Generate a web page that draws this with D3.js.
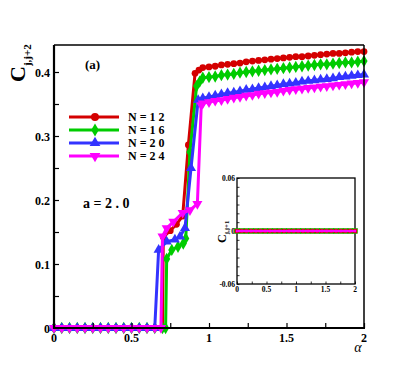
<!DOCTYPE html>
<html lang="en">
<head>
<meta charset="UTF-8">
<title>C j,j+2 vs alpha</title>
<script src="https://cdnjs.cloudflare.com/ajax/libs/d3/7.8.5/d3.min.js"></script>
<style>
    body { margin: 0; background: #fff; }
    svg { display: block; }
</style>
</head>
<body>
<div id="chart"></div>
<script>
    // values
    const zeroAlpha = [0, 0.05, 0.1, 0.15, 0.2, 0.25, 0.3, 0.35, 0.4, 0.45, 0.5, 0.55, 0.6, 0.65];
    const highAlpha = [0.96, 1.0, 1.04, 1.08, 1.12, 1.16, 1.2, 1.24, 1.28, 1.32, 1.36, 1.4, 1.44, 1.48,
        1.52, 1.56, 1.6, 1.64, 1.68, 1.72, 1.76, 1.8, 1.84, 1.88, 1.92, 1.96, 2.0];

    const n12Mid = [[0.70, 0], [0.705, 0.142], [0.75, 0.152], [0.79, 0.162], [0.83, 0.175], [0.867, 0.286], [0.91, 0.398], [0.935, 0.403]];
    const n16Mid = [[0.70, 0], [0.72, 0], [0.727, 0.108], [0.76, 0.122], [0.80, 0.127], [0.834, 0.132], [0.85, 0.14], [0.877, 0.275], [0.92, 0.378], [0.94, 0.385]];
    const n20Mid = [[0.675, 0.122], [0.727, 0.135], [0.78, 0.138], [0.813, 0.143], [0.845, 0.156], [0.884, 0.25], [0.93, 0.356]];
    const n24Mid = [[0.69, 0], [0.70, 0.143], [0.727, 0.156], [0.77, 0.166], [0.83, 0.18], [0.877, 0.184], [0.925, 0.194], [0.95, 0.348]];

    const n12High = [0.407, 0.408, 0.409, 0.411, 0.412, 0.413, 0.414, 0.416, 0.417, 0.418, 0.419, 0.42, 0.421, 0.422,
        0.423, 0.424, 0.424, 0.425, 0.426, 0.427, 0.428, 0.429, 0.429, 0.43, 0.431, 0.432, 0.432];
    const n16High = [0.391, 0.392, 0.393, 0.395, 0.396, 0.397, 0.399, 0.4, 0.401, 0.402, 0.403, 0.404, 0.405, 0.406,
        0.407, 0.408, 0.409, 0.41, 0.411, 0.412, 0.412, 0.413, 0.414, 0.415, 0.415, 0.416, 0.417];
    const n20High = [0.359, 0.361, 0.363, 0.365, 0.367, 0.368, 0.37, 0.372, 0.373, 0.375, 0.376, 0.378, 0.379, 0.381,
        0.382, 0.383, 0.385, 0.386, 0.387, 0.388, 0.389, 0.39, 0.392, 0.393, 0.394, 0.395, 0.396];
    const n24High = [0.351, 0.353, 0.355, 0.356, 0.358, 0.36, 0.361, 0.363, 0.364, 0.366, 0.367, 0.368, 0.369, 0.371,
        0.372, 0.373, 0.374, 0.375, 0.376, 0.377, 0.378, 0.379, 0.38, 0.381, 0.382, 0.383, 0.384];

    const seriesLabels = ["N = 1 2", "N = 1 6", "N = 2 0", "N = 2 4"];
    const yTicks = [0, 0.1, 0.2, 0.3, 0.4];
    const xTicks = [0, 0.5, 1, 1.5, 2];

    // inset: C(j,j+1) is zero everywhere
    const insetAlpha = [0, 0.08, 0.16, 0.24, 0.32, 0.4, 0.48, 0.56, 0.64, 0.72, 0.8, 0.88, 0.96, 1.04,
        1.12, 1.2, 1.28, 1.36, 1.44, 1.52, 1.6, 1.68, 1.76, 1.84, 1.92, 2.0];
    const insetC = [0, 0, 0, 0, 0, 0, 0, 0, 0, 0, 0, 0, 0, 0, 0, 0, 0, 0, 0, 0, 0, 0, 0, 0, 0, 0];
    const insetYTicks = [-0.06, 0, 0.06];

    const W = 415, H = 370;
    const svg = d3.select("#chart").append("svg").attr("width", W).attr("height", H)
        .attr("font-family", "'Liberation Serif', 'Times New Roman', 'DejaVu Serif', serif")
        .attr("font-weight", "bold");

    const x = d3.scaleLinear().domain([0, 2]).range([54, 364]);
    const y = d3.scaleLinear().domain([0, 0.4]).range([328, 72]);
    const topY = 45;

    const colors = ["#d40000", "#00cc00", "#3333ff", "#ff00ff"];
    const shapes = [d3.symbolCircle, d3.symbolDiamond, d3.symbolTriangle, d3.symbolTriangle];
    const flips = [0, 0, 0, 180];
    const mids = [n12Mid, n16Mid, n20Mid, n24Mid];
    const highs = [n12High, n16High, n20High, n24High];

    const series = seriesLabels.map((label, i) => ({
        label: label,
        color: colors[i],
        shape: shapes[i],
        flip: flips[i],
        points: zeroAlpha.map(a => [a, 0])
            .concat(mids[i])
            .concat(highAlpha.map((a, k) => [a, highs[i][k]]))
    }));

    const line = d3.line().x(d => x(d[0])).y(d => y(d[1]));
    const sym = (s, size) => d3.symbol().type(s.shape).size(size);

    const plot = svg.append("g");
    series.forEach(s => {
        plot.append("path").attr("d", line(s.points))
            .attr("fill", "none").attr("stroke", s.color).attr("stroke-width", 3);
        plot.append("g").selectAll("path").data(s.points).enter().append("path")
            .attr("d", sym(s, s.shape === d3.symbolCircle ? 36 : 44))
            .attr("transform", d => `translate(${x(d[0])},${y(d[1])}) rotate(${s.flip})`)
            .attr("fill", s.color);
    });

    // frame
    svg.append("line").attr("x1", 54).attr("x2", 364).attr("y1", topY).attr("y2", topY)
        .attr("stroke", "#000").attr("stroke-width", 1.5);
    svg.append("line").attr("x1", 364).attr("x2", 364).attr("y1", topY).attr("y2", 328)
        .attr("stroke", "#000").attr("stroke-width", 1.5);

    // axes with inward ticks
    const yAxis = d3.axisLeft(y).tickValues(d3.range(0, 0.44, 0.05)).tickSize(-5).tickFormat("");
    svg.append("g").attr("transform", "translate(54,0)").call(yAxis);
    const xAxis = d3.axisBottom(x).tickValues(d3.range(0, 2.01, 0.25)).tickSize(-5).tickFormat("");
    svg.append("g").attr("transform", "translate(0,328)").call(xAxis);
    svg.selectAll(".domain").remove();
    svg.selectAll(".tick line").attr("stroke", "#000").attr("stroke-width", 1.2);
    svg.append("line").attr("x1", 54).attr("x2", 54).attr("y1", topY).attr("y2", 329)
        .attr("stroke", "#000").attr("stroke-width", 2.2);
    svg.append("line").attr("x1", 53).attr("x2", 365).attr("y1", 328).attr("y2", 328)
        .attr("stroke", "#000").attr("stroke-width", 2.2);

    svg.append("g").selectAll("text").data(yTicks).enter().append("text")
        .attr("x", 50).attr("y", d => y(d) + 4.5).attr("text-anchor", "end")
        .attr("font-size", 12).text(d => d === 0 ? "0" : d.toFixed(1));
    svg.append("g").selectAll("text").data(xTicks).enter().append("text")
        .attr("x", d => x(d)).attr("y", 342).attr("text-anchor", "middle")
        .attr("font-size", 12).text(d => String(d));

    svg.append("text").attr("x", 358).attr("y", 352).attr("text-anchor", "middle")
        .attr("font-size", 14).attr("font-weight", "normal").attr("font-style", "italic").text("α");

    const yTitle = svg.append("text").attr("transform", "translate(25,82) rotate(-90)");
    yTitle.append("tspan").attr("font-size", 22).text("C");
    yTitle.append("tspan").attr("font-size", 11).attr("dy", 6).text("j,j+2");

    svg.append("text").attr("x", 85).attr("y", 69).attr("font-size", 13).text("(a)");
    svg.append("text").attr("x", 83).attr("y", 208).attr("font-size", 14).text("a = 2 . 0");

    // legend
    const legend = svg.append("g");
    series.forEach((s, i) => {
        const ly = 117 + i * 13;
        legend.append("line").attr("x1", 69).attr("x2", 119).attr("y1", ly).attr("y2", ly)
            .attr("stroke", s.color).attr("stroke-width", 3);
        legend.append("path").attr("d", sym(s, 50))
            .attr("transform", `translate(95,${ly}) rotate(${s.flip})`).attr("fill", s.color);
        legend.append("text").attr("x", 128).attr("y", ly + 4).attr("font-size", 12).text(s.label);
    });

    // inset
    const ix = d3.scaleLinear().domain([0, 2]).range([237, 355]);
    const iy = d3.scaleLinear().domain([-0.06, 0.06]).range([284, 178]);
    const inset = svg.append("g");
    inset.append("rect").attr("x", 237).attr("y", 178).attr("width", 118).attr("height", 106)
        .attr("fill", "#fff").attr("stroke", "#000").attr("stroke-width", 1.3);
    inset.append("g").attr("transform", "translate(237,0)")
        .call(d3.axisLeft(iy).tickValues(d3.range(-0.06, 0.061, 0.01)).tickSize(-2.5).tickFormat(""));
    inset.append("g").attr("transform", "translate(0,284)")
        .call(d3.axisBottom(ix).tickValues(d3.range(0, 2.01, 0.25)).tickSize(-2.5).tickFormat(""));
    inset.selectAll(".domain").remove();
    inset.selectAll(".tick line").attr("stroke", "#000").attr("stroke-width", 0.8);

    inset.append("g").selectAll("text").data(insetYTicks).enter().append("text")
        .attr("x", 235).attr("y", d => iy(d) + 2.5).attr("text-anchor", "end")
        .attr("font-size", 7.5).text(d => d === 0 ? "0" : d.toFixed(2));
    inset.append("g").selectAll("text").data(xTicks).enter().append("text")
        .attr("x", d => ix(d)).attr("y", 292).attr("text-anchor", "middle")
        .attr("font-size", 7.5).text(d => String(d));

    const iTitle = inset.append("text").attr("transform", "translate(226,243) rotate(-90)");
    iTitle.append("tspan").attr("font-size", 12).text("C");
    iTitle.append("tspan").attr("font-size", 7).attr("dy", 3).text("j,j+1");

    const insetPts = insetAlpha.map((a, k) => [a, insetC[k]]);
    const iline = d3.line().x(d => ix(d[0])).y(d => iy(d[1]));
    inset.append("g").selectAll("rect").data(insetPts).enter().append("rect")
        .attr("x", d => ix(d[0]) - 2.5).attr("y", d => iy(d[1]) - 2.5)
        .attr("width", 5).attr("height", 5).attr("fill", "#d40000").attr("stroke", "#00cc00").attr("stroke-width", 0.6);
    inset.append("path").attr("d", iline(insetPts)).attr("fill", "none")
        .attr("stroke", "#ff00ff").attr("stroke-width", 2.2);
    inset.append("g").selectAll("rect").data(insetPts).enter().append("rect")
        .attr("x", d => ix(d[0]) - 1.2).attr("y", d => iy(d[1]) - 1.3)
        .attr("width", 2.4).attr("height", 2.6).attr("fill", "#ff00ff");
</script>
</body>
</html>
